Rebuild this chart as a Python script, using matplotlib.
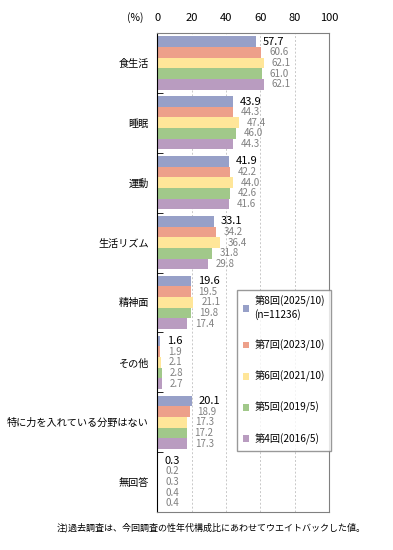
import numpy as np
import matplotlib
matplotlib.use('Agg')
import matplotlib.pyplot as plt

plt.rcParams['font.family'] = ['Noto Sans CJK JP', 'DejaVu Sans']

# データ
categories = ['食生活', '睡眠', '運動', '生活リズム', '精神面', 'その他',
              '特に力を入れている分野はない', '無回答']
series_names = ['第8回(2025/10)\n(n=11236)', '第7回(2023/10)', '第6回(2021/10)',
                '第5回(2019/5)', '第4回(2016/5)']
v8 = [57.7, 43.9, 41.9, 33.1, 19.6, 1.6, 20.1, 0.3]
v7 = [60.6, 44.3, 42.2, 34.2, 19.5, 1.9, 18.9, 0.2]
v6 = [62.1, 47.4, 44.0, 36.4, 21.1, 2.1, 17.3, 0.3]
v5 = [61.0, 46.0, 42.6, 31.8, 19.8, 2.8, 17.2, 0.4]
v4 = [62.1, 44.3, 41.6, 29.8, 17.4, 2.7, 17.3, 0.4]
series = [v8, v7, v6, v5, v4]
colors = ['#97A0C8', '#EDA08A', '#FFE699', '#A1C88A', '#B99CC0']

fig = plt.figure(figsize=(3.93, 5.5), dpi=100)
ax = fig.add_axes([0.40, 0.069, 0.437, 0.871])

n = len(categories)
bh = 0.178
for j, (vals, c) in enumerate(zip(series, colors)):
    y = np.arange(n) + (j - 2) * bh
    ax.barh(y, vals, height=bh, color=c, label=series_names[j], zorder=2)
    for yy, v in zip(y, vals):
        if j == 0:
            ax.text(v + 4, yy, f'{v:.1f}', va='center', ha='left',
                    fontsize=8, color='black')
        else:
            ax.text(v + 4.5, yy, f'{v:.1f}', va='center', ha='left',
                    fontsize=7, color='#808080')

ax.set_xlim(0, 100)
ax.set_ylim(n - 0.5, -0.5)
ax.set_xticks([0, 20, 40, 60, 80, 100])
ax.xaxis.tick_top()
ax.tick_params(axis='x', length=0, labelsize=8, pad=7)
ax.set_yticks(np.arange(n))
ax.set_yticklabels(categories, fontsize=7.3)
ax.tick_params(axis='y', length=0, pad=6)
ax.set_yticks(np.arange(n + 1) - 0.5, minor=True)
ax.tick_params(axis='y', which='minor', length=4, direction='in', color='black')
ax.grid(axis='x', linestyle=(0, (2, 2)), color='#C8C8C8', linewidth=0.7, zorder=0)
for s in ax.spines.values():
    s.set_color('#808080')
ax.spines['left'].set_color('black')

fig.text(0.343, 0.969, '(%)', fontsize=7.5, ha='center', va='center')

leg = ax.legend(loc='upper left', bbox_to_anchor=(0.435, 0.474), fontsize=7.3,
                frameon=True, fancybox=False, edgecolor='#808080',
                handlelength=0.6, handleheight=0.6, handletextpad=0.5,
                labelspacing=1.95, borderpad=0.6)
leg.get_frame().set_linewidth(1.0)

fig.text(0.537, 0.042, '注)過去調査は、今回調査の性年代構成比にあわせてウエイトバックした値。',
         fontsize=6.5, ha='center', va='center')

fig.savefig('out.png', dpi=100)
